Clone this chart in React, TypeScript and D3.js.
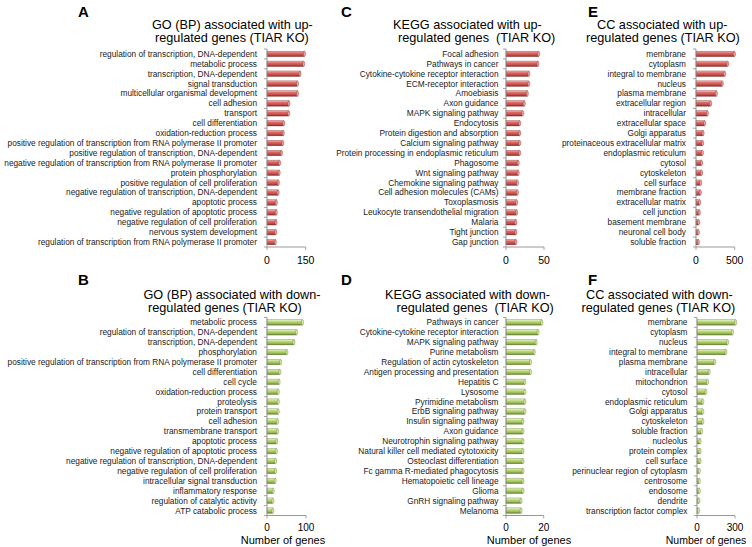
import React from "react";
import * as d3 from "d3";

// ---------- DATA ----------
const goUpCategories = [
  "regulation of transcription, DNA-dependent",
  "metabolic process",
  "transcription, DNA-dependent",
  "signal transduction",
  "multicellular organismal development",
  "cell adhesion",
  "transport",
  "cell differentiation",
  "oxidation-reduction process",
  "positive regulation of transcription from RNA polymerase II promoter",
  "positive regulation of transcription, DNA-dependent",
  "negative regulation of transcription from RNA polymerase II promoter",
  "protein phosphorylation",
  "positive regulation of cell proliferation",
  "negative regulation of transcription, DNA-dependent",
  "apoptotic process",
  "negative regulation of apoptotic process",
  "negative regulation of cell proliferation",
  "nervous system development",
  "regulation of transcription from RNA polymerase II promoter",
];
const goUpValues = [145, 142, 128, 118, 118, 85, 84, 65, 63, 61, 56, 49, 47, 44, 43, 36, 36, 35, 34, 32];
const goUpTicks = [0, 150];

const keggUpCategories = [
  "Focal adhesion",
  "Pathways in cancer",
  "Cytokine-cytokine receptor interaction",
  "ECM-receptor interaction",
  "Amoebiasis",
  "Axon guidance",
  "MAPK signaling pathway",
  "Endocytosis",
  "Protein digestion and absorption",
  "Calcium signaling pathway",
  "Protein processing in endoplasmic reticulum",
  "Phagosome",
  "Wnt signaling pathway",
  "Chemokine signaling pathway",
  "Cell adhesion molecules (CAMs)",
  "Toxoplasmosis",
  "Leukocyte transendothelial migration",
  "Malaria",
  "Tight junction",
  "Gap junction",
];
const keggUpValues = [43, 42, 30, 30, 28, 24, 22, 18, 18, 18, 18, 16, 16, 15, 15, 14, 14, 13, 13, 13];
const keggUpTicks = [0, 50];

const ccUpCategories = [
  "membrane",
  "cytoplasm",
  "integral to membrane",
  "nucleus",
  "plasma membrane",
  "extracellular region",
  "intracellular",
  "extracellular space",
  "Golgi apparatus",
  "proteinaceous extracellular matrix",
  "endoplasmic reticulum",
  "cytosol",
  "cytoskeleton",
  "cell surface",
  "membrane fraction",
  "extracellular matrix",
  "cell junction",
  "basement membrane",
  "neuronal cell body",
  "soluble fraction",
];
const ccUpValues = [496, 410, 371, 340, 263, 190, 147, 112, 91, 86, 82, 73, 73, 60, 56, 47, 43, 34, 30, 30];
const ccUpTicks = [0, 500];

const goDownCategories = [
  "metabolic process",
  "regulation of transcription, DNA-dependent",
  "transcription, DNA-dependent",
  "phosphorylation",
  "positive regulation of transcription from RNA polymerase II promoter",
  "cell differentiation",
  "cell cycle",
  "oxidation-reduction process",
  "proteolysis",
  "protein transport",
  "cell adhesion",
  "transmembrane transport",
  "apoptotic process",
  "negative regulation of apoptotic process",
  "negative regulation of transcription, DNA-dependent",
  "negative regulation of cell proliferation",
  "intracellular signal transduction",
  "inflammatory response",
  "regulation of catalytic activity",
  "ATP catabolic process",
];
const goDownValues = [91, 76, 69, 51, 35, 33, 31, 29, 29, 29, 27, 27, 25, 24, 22, 22, 21, 16, 15, 15];
const goDownTicks = [0, 100];

const keggDownCategories = [
  "Pathways in cancer",
  "Cytokine-cytokine receptor interaction",
  "MAPK signaling pathway",
  "Purine metabolism",
  "Regulation of actin cytoskeleton",
  "Antigen processing and presentation",
  "Hepatitis C",
  "Lysosome",
  "Pyrimidine metabolism",
  "ErbB signaling pathway",
  "Insulin signaling pathway",
  "Axon guidance",
  "Neurotrophin signaling pathway",
  "Natural killer cell mediated cytotoxicity",
  "Osteoclast differentiation",
  "Fc gamma R-mediated phagocytosis",
  "Hematopoietic cell lineage",
  "Glioma",
  "GnRH signaling pathway",
  "Melanoma",
];
const keggDownValues = [19, 17, 16, 15, 13, 13, 10, 10, 10, 10, 9, 9, 9, 9, 9, 9, 9, 9, 8, 8];
const keggDownTicks = [0, 20];

const ccDownCategories = [
  "membrane",
  "cytoplasm",
  "nucleus",
  "integral to membrane",
  "plasma membrane",
  "intracellular",
  "mitochondrion",
  "cytosol",
  "endoplasmic reticulum",
  "Golgi apparatus",
  "cytoskeleton",
  "soluble fraction",
  "nucleolus",
  "protein complex",
  "cell surface",
  "perinuclear region of cytoplasm",
  "centrosome",
  "endosome",
  "dendrite",
  "transcription factor complex",
];
const ccDownValues = [305, 280, 242, 228, 140, 96, 83, 70, 46, 46, 46, 36, 24, 24, 24, 18, 18, 18, 15, 13];
const ccDownTicks = [0, 300];

const axisTitle = "Number of genes";

// ---------- LAYOUT ----------
type Panel = {
  letter: string;
  title: [string, string];
  categories: string[];
  values: number[];
  ticks: number[];
  letterX: number;
  titleX: [number, number];
  x0: number;
  width: number;
  labelGap: number;
  top: boolean;
  color: "red" | "green";
  axisTitleX?: number;
  axisTitleSize?: number;
};

const panels: Panel[] = [
  {
    letter: "A",
    title: ["GO (BP) associated with up-", "regulated genes (TIAR KO)"],
    categories: goUpCategories,
    values: goUpValues,
    ticks: goUpTicks,
    letterX: 78,
    titleX: [152, 155],
    x0: 267,
    width: 38.7,
    labelGap: 10,
    top: true,
    color: "red",
  },
  {
    letter: "C",
    title: ["KEGG associated with up-", "regulated genes  (TIAR KO)"],
    categories: keggUpCategories,
    values: keggUpValues,
    ticks: keggUpTicks,
    letterX: 341,
    titleX: [393, 398],
    x0: 506,
    width: 38,
    labelGap: 7.5,
    top: true,
    color: "red",
  },
  {
    letter: "E",
    title: ["CC associated with up-", "regulated genes (TIAR KO)"],
    categories: ccUpCategories,
    values: ccUpValues,
    ticks: ccUpTicks,
    letterX: 588,
    titleX: [597, 586],
    x0: 696,
    width: 38.7,
    labelGap: 10,
    top: true,
    color: "red",
  },
  {
    letter: "B",
    title: ["GO (BP) associated with down-", "regulated genes (TIAR KO)"],
    categories: goDownCategories,
    values: goDownValues,
    ticks: goDownTicks,
    letterX: 78,
    titleX: [143.5, 148],
    x0: 267,
    width: 39,
    labelGap: 10,
    top: false,
    color: "green",
    axisTitleX: 283,
    axisTitleSize: 11,
  },
  {
    letter: "D",
    title: ["KEGG associated with down-", "regulated genes  (TIAR KO)"],
    categories: keggDownCategories,
    values: keggDownValues,
    ticks: keggDownTicks,
    letterX: 341,
    titleX: [385, 396.5],
    x0: 506,
    width: 37.7,
    labelGap: 7.5,
    top: false,
    color: "green",
    axisTitleX: 529,
    axisTitleSize: 11,
  },
  {
    letter: "F",
    title: ["CC associated with down-", "regulated genes (TIAR KO)"],
    categories: ccDownCategories,
    values: ccDownValues,
    ticks: ccDownTicks,
    letterX: 588,
    titleX: [586, 581.5],
    x0: 697,
    width: 38,
    labelGap: 9.5,
    top: false,
    color: "green",
    axisTitleX: 706,
    axisTitleSize: 10.5,
  },
];

const FONT = "Arial, 'Liberation Sans', Helvetica, sans-serif";
const AXIS_COLOR = "#8c8c8c";

function PanelView({ p }: { p: Panel }) {
  const bandTop = p.top ? 49 : 317.5;
  const bandBottom = p.top ? 247 : 515.5;
  const y = d3
    .scaleBand<string>()
    .domain(p.categories)
    .range([bandTop, bandBottom])
    .paddingInner(0.45)
    .paddingOuter(0.22);
  const step = (bandBottom - bandTop) / p.categories.length;
  const tickMax = p.ticks[p.ticks.length - 1];
  const x = d3.scaleLinear().domain([0, tickMax]).range([p.x0, p.x0 + p.width]);
  const letterY = p.top ? 16.5 : 285;
  const t1 = p.top ? 28.5 : 298.5;
  const t2 = p.top ? 42 : 311.5;
  const tickLabelY = p.top ? 264 : 530.5;
  const gradId = p.color === "red" ? "gradRed" : "gradGreen";
  const capColor = p.color === "red" ? "#e9a19f" : "#d5e6a8";
  const strokeColor = p.color === "red" ? "#8e3532" : "#6b8535";
  const bh = y.bandwidth();

  return (
    <g>
      <text x={p.letterX} y={letterY} fontFamily={FONT} fontWeight="bold" fontSize={15} fill="#000">
        {p.letter}
      </text>
      <text x={p.titleX[0]} y={t1} fontFamily={FONT} fontSize={12.7} fill="#000">
        {p.title[0]}
      </text>
      <text x={p.titleX[1]} y={t2} fontFamily={FONT} fontSize={12.7} fill="#000" style={{ whiteSpace: "pre" }}>
        {p.title[1]}
      </text>

      {/* category labels */}
      {p.categories.map((c) => (
        <text
          key={"l" + c}
          x={p.x0 - p.labelGap}
          y={(y(c) as number) + bh / 2}
          dy="0.35em"
          textAnchor="end"
          fontFamily={FONT}
          fontSize={8.3}
          fill="#1a1a1a"
        >
          {c}
        </text>
      ))}

      {/* bars */}
      {p.categories.map((c, i) => {
        const v = p.values[i];
        const yy = y(c) as number;
        const w = x(v) - x(0);
        return (
          <g key={"b" + c}>
            <rect x={x(0)} y={yy} width={w} height={bh} fill={`url(#${gradId})`} stroke={strokeColor} strokeWidth={0.4} />
            <ellipse cx={x(0) + w} cy={yy + bh / 2} rx={1.1} ry={bh / 2} fill={capColor} stroke={strokeColor} strokeWidth={0.4} />
          </g>
        );
      })}

      {/* vertical axis */}
      <line x1={p.x0} x2={p.x0} y1={bandTop} y2={bandBottom} stroke={AXIS_COLOR} strokeWidth={0.9} />
      {d3.range(p.categories.length + 1).map((k) => (
        <line
          key={"vt" + k}
          x1={p.x0 - 3}
          x2={p.x0}
          y1={bandTop + k * step}
          y2={bandTop + k * step}
          stroke={AXIS_COLOR}
          strokeWidth={0.8}
        />
      ))}

      {/* horizontal axis */}
      <line x1={p.x0} x2={x(tickMax)} y1={bandBottom} y2={bandBottom} stroke={AXIS_COLOR} strokeWidth={0.9} />
      {p.ticks.map((t) => (
        <g key={"t" + t}>
          <line x1={x(t)} x2={x(t)} y1={bandBottom} y2={bandBottom + 3} stroke={AXIS_COLOR} strokeWidth={0.8} />
          <text x={x(t)} y={tickLabelY} textAnchor="middle" fontFamily={FONT} fontSize={p.top ? 10.5 : 10} fill="#000">
            {String(t)}
          </text>
        </g>
      ))}
      {!p.top && (
        <text
          x={p.axisTitleX}
          y={544}
          textAnchor="middle"
          fontFamily={FONT}
          fontSize={p.axisTitleSize}
          fill="#000"
        >
          {axisTitle}
        </text>
      )}
    </g>
  );
}

export default function App() {
  return (
    <svg
      width={752}
      height={547}
      viewBox="0 0 752 547"
      style={{ position: "absolute", left: 0, top: 0, background: "#fff" }}
    >
      <defs>
        <linearGradient id="gradRed" x1="0" y1="0" x2="0" y2="1">
          <stop offset="0%" stopColor="#f4c3c1" />
          <stop offset="35%" stopColor="#e06663" />
          <stop offset="70%" stopColor="#c0504d" />
          <stop offset="100%" stopColor="#7e2826" />
        </linearGradient>
        <linearGradient id="gradGreen" x1="0" y1="0" x2="0" y2="1">
          <stop offset="0%" stopColor="#eef6d6" />
          <stop offset="35%" stopColor="#bcd97a" />
          <stop offset="70%" stopColor="#9bbb59" />
          <stop offset="100%" stopColor="#5f7b2c" />
        </linearGradient>
      </defs>
      <rect x={0} y={0} width={752} height={547} fill="#fff" />
      {panels.map((p) => (
        <PanelView key={p.letter} p={p} />
      ))}
    </svg>
  );
}
